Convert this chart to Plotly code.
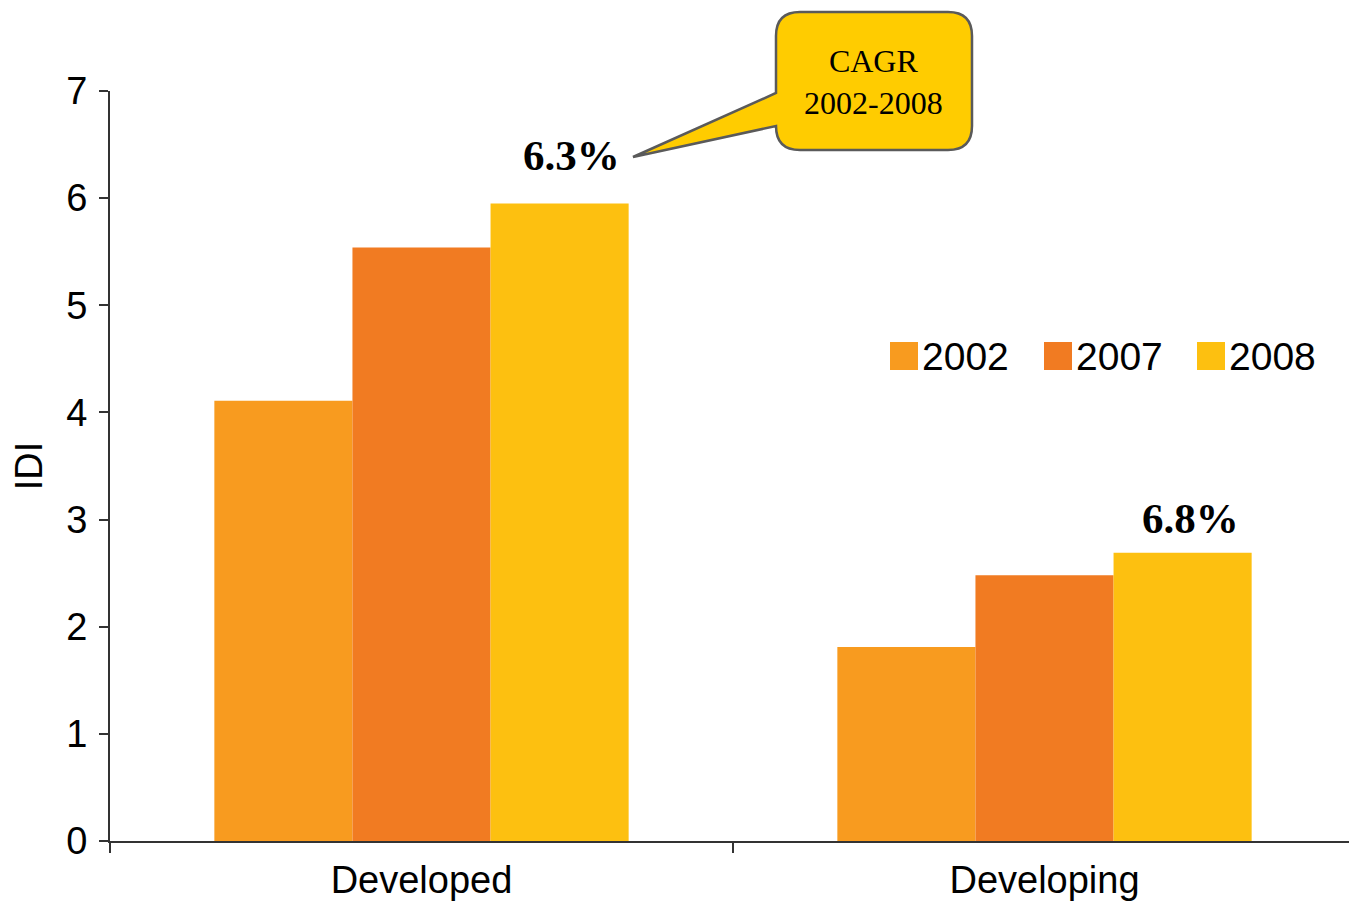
import plotly.graph_objects as go

categories = ["Developed", "Developing"]
years = ["2002", "2007", "2008"]
values_2002 = [4.11, 1.81]
values_2007 = [5.54, 2.48]
values_2008 = [5.95, 2.69]
series = [values_2002, values_2007, values_2008]
colors = ["#F89B1F", "#F17B22", "#FDC010"]
cagr_labels = ["6.3%", "6.8%"]
y_ticks = [0, 1, 2, 3, 4, 5, 6, 7]

# the page body has an 8px margin, so the figure is placed at (8, 8) on screen
OFF = 8
W, H = 1357 - OFF, 901 - OFF
L, R, T, B = 110 - OFF, 1, 91 - OFF, 60
PW, PH = W - L - R, H - T - B


def px(x):  # screen x -> paper
    return (x - OFF - L) / PW


def py(y):  # screen y -> paper
    return (H - B - (y - OFF)) / PH


SANS = "Liberation Sans, Arial"
SERIF = "Liberation Serif, Times New Roman"

fig = go.Figure()
for name, vals, col in zip(years, series, colors):
    fig.add_trace(go.Bar(x=categories, y=vals, name=name, marker_color=col,
                         marker_line_width=0, showlegend=False))

# CAGR labels above the 2008 bars
label_xshift = [150, 146]
label_yshift = [23, 9]
for cat, v, lab, xs, ys in zip(categories, values_2008, cagr_labels, label_xshift, label_yshift):
    fig.add_annotation(x=cat, y=v, xref="x", yref="y", xshift=xs,
                       text="<b>" + lab + "</b>", showarrow=False, yanchor="bottom", yshift=ys,
                       font=dict(family=SERIF, size=43, color="black"))

# callout box
r = 24
x0, x1, y0, y1 = 776, 972, 12, 150
path = (f"M {px(x0 + r)},{py(y0)} L {px(x1 - r)},{py(y0)} Q {px(x1)},{py(y0)} {px(x1)},{py(y0 + r)} "
        f"L {px(x1)},{py(y1 - r)} Q {px(x1)},{py(y1)} {px(x1 - r)},{py(y1)} "
        f"L {px(x0 + r)},{py(y1)} Q {px(x0)},{py(y1)} {px(x0)},{py(y1 - r)} "
        f"L {px(x0)},{py(126)} L {px(633)},{py(157)} L {px(x0)},{py(93)} "
        f"L {px(x0)},{py(y0 + r)} Q {px(x0)},{py(y0)} {px(x0 + r)},{py(y0)} Z")
fig.add_shape(type="path", path=path, xref="paper", yref="paper",
              fillcolor="#FFCC00", line=dict(color="#5A5A5A", width=2.5))
fig.add_annotation(x=px(873), y=py(82), xref="paper", yref="paper", showarrow=False,
                   text="CAGR<br>2002-2008", align="center", xanchor="center", yanchor="middle",
                   font=dict(family=SERIF, size=32, color="black"))

# legend (manual, large swatches)
lx = [890, 1044, 1197]
for i, (name, col) in enumerate(zip(years, colors)):
    fig.add_shape(type="rect", xref="paper", yref="paper",
                  x0=px(lx[i]), x1=px(lx[i] + 28), y0=py(370), y1=py(342),
                  fillcolor=col, line_width=0)
    fig.add_annotation(x=px(lx[i] + 30), y=py(356), xref="paper", yref="paper",
                       text=name, showarrow=False, xanchor="left", yanchor="middle",
                       font=dict(family=SANS, size=39, color="black"))

fig.update_layout(
    width=W, height=H,
    margin=dict(l=L, r=R, t=T, b=B),
    paper_bgcolor="white", plot_bgcolor="white",
    barmode="group", bargap=0.335, bargroupgap=0,
    font=dict(family=SANS, size=38, color="black"),
)
fig.update_xaxes(showline=True, linecolor="#333333", linewidth=2,
                 ticks="outside", tickson="boundaries", ticklen=10, tickcolor="#333333", tickwidth=2,
                 tickfont=dict(size=38), ticklabelstandoff=4, showgrid=False)
fig.update_yaxes(range=[0, 7], tickvals=y_ticks, showline=True, linecolor="#333333", linewidth=2,
                 ticks="outside", ticklen=9, tickcolor="#333333", tickwidth=2,
                 tickfont=dict(size=38), ticklabelstandoff=4, showgrid=False, zeroline=False,
                 title=dict(text="IDI", font=dict(size=38), standoff=14))

fig.write_html("out.html")
